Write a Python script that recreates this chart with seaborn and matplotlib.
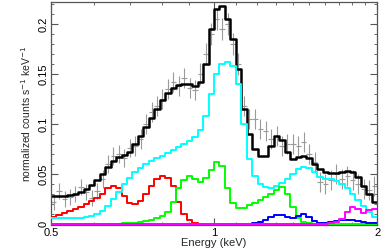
import numpy as np
import pandas as pd
import matplotlib
matplotlib.use("Agg")
import matplotlib.pyplot as plt
import seaborn as sns
from matplotlib.ticker import FixedLocator, NullFormatter, MultipleLocator

# ---- data (60 log-spaced energy bins from 0.5 to 2 keV) ----
e_lo, e_hi, n_bins = 0.5, 2.0, 60

total = [0.028, 0.028, 0.028, 0.029, 0.030, 0.032, 0.035, 0.039, 0.044, 0.050,
         0.057, 0.063, 0.067, 0.069, 0.072, 0.080, 0.088, 0.097, 0.106, 0.115,
         0.124, 0.131, 0.136, 0.139, 0.140, 0.140, 0.138, 0.142, 0.160, 0.195,
         0.215, 0.218, 0.205, 0.185, 0.155, 0.115, 0.090, 0.075, 0.068, 0.068,
         0.078, 0.088, 0.084, 0.072, 0.065, 0.067, 0.068, 0.066, 0.060, 0.055,
         0.052, 0.051, 0.051, 0.052, 0.053, 0.052, 0.047, 0.038, 0.030, 0.022]

comp_red = [0.007, 0.009, 0.011, 0.013, 0.015, 0.017, 0.020, 0.023, 0.026, 0.030,
            0.036, 0.038, 0.036, 0.028, 0.021, 0.020, 0.023, 0.030, 0.038, 0.045,
            0.048, 0.046, 0.038, 0.022, 0.010, 0.004, 0.001, 0.0005, 0.0003, 0.0003,
            0.0003, 0.0003, 0.0003, 0.0003, 0.0003, 0.0003, 0.0003, 0.0003, 0.0003, 0.0003,
            0.0003, 0.0003, 0.0003, 0.0003, 0.0003, 0.0003, 0.0003, 0.0003, 0.0003, 0.0003,
            0.0003, 0.0003, 0.0003, 0.0003, 0.0003, 0.0003, 0.0003, 0.0003, 0.0003, 0.0003]

comp_cyan = [0.006, 0.006, 0.006, 0.006, 0.006, 0.006, 0.007, 0.008, 0.010, 0.013,
             0.018, 0.025, 0.032, 0.040, 0.046, 0.052, 0.056, 0.060, 0.063, 0.066,
             0.068, 0.071, 0.074, 0.077, 0.080, 0.083, 0.087, 0.094, 0.108, 0.130,
             0.150, 0.160, 0.162, 0.158, 0.140, 0.100, 0.065, 0.048, 0.040, 0.037,
             0.036, 0.038, 0.041, 0.045, 0.050, 0.055, 0.057, 0.056, 0.052, 0.047,
             0.045, 0.045, 0.043, 0.040, 0.036, 0.030, 0.024, 0.018, 0.012, 0.007]

comp_green = [0.0003, 0.0003, 0.0003, 0.0003, 0.0003, 0.0003, 0.0003, 0.0003, 0.0003, 0.0003,
              0.0003, 0.0003, 0.0005, 0.0008, 0.001, 0.0015, 0.002, 0.003, 0.004, 0.006,
              0.008, 0.012, 0.022, 0.036, 0.044, 0.048, 0.045, 0.042, 0.046, 0.054,
              0.062, 0.058, 0.036, 0.021, 0.016, 0.016, 0.019, 0.021, 0.024, 0.027,
              0.030, 0.034, 0.037, 0.030, 0.017, 0.006, 0.002, 0.001, 0.0005, 0.0005,
              0.0005, 0.0005, 0.0005, 0.0005, 0.0005, 0.0005, 0.0005, 0.0005, 0.0005, 0.0005]

comp_blue = [0.0003] * 37 + [0.0008, 0.002, 0.004, 0.007, 0.009, 0.009, 0.007, 0.006, 0.008,
                             0.010, 0.007, 0.003, 0.001, 0.001, 0.002, 0.003, 0.004, 0.004,
                             0.004, 0.003, 0.002, 0.001, 0.001]

comp_magenta = [0.0005] * 51 + [0.001, 0.002, 0.005, 0.012, 0.017, 0.015, 0.011, 0.014, 0.015]

data_rate = [0.022, 0.033, 0.025, 0.027, 0.030, 0.037, 0.032, 0.026, 0.033, 0.045,
             0.060, 0.068, 0.070, 0.066, 0.076, 0.078, 0.085, 0.100, 0.112, 0.118,
             0.125, 0.135, 0.142, 0.138, 0.146, 0.136, 0.134, 0.150, 0.170, 0.190,
             0.205, 0.195, 0.200, 0.180, 0.160, 0.118, 0.105, 0.105, 0.095, 0.093,
             0.085, 0.088, 0.078, 0.080, 0.080, 0.078, 0.082, 0.070, 0.062, 0.042,
             0.040, 0.044, 0.050, 0.045, 0.048, 0.044, 0.040, 0.035, 0.034, 0.038]

data_err = [0.008, 0.008, 0.008, 0.008, 0.008, 0.008, 0.008, 0.008, 0.008, 0.009,
            0.009, 0.009, 0.009, 0.009, 0.009, 0.010, 0.010, 0.010, 0.010, 0.010,
            0.010, 0.010, 0.010, 0.010, 0.010, 0.010, 0.010, 0.011, 0.011, 0.011,
            0.011, 0.011, 0.011, 0.011, 0.011, 0.010, 0.010, 0.010, 0.010, 0.010,
            0.010, 0.010, 0.010, 0.010, 0.010, 0.010, 0.010, 0.010, 0.010, 0.010,
            0.010, 0.010, 0.010, 0.010, 0.010, 0.010, 0.010, 0.010, 0.010, 0.010]

x_ticks = [0.5, 1, 2]
x_tick_labels = ["0.5", "1", "2"]
y_ticks = [0, 0.05, 0.1, 0.15, 0.2]
y_tick_labels = ["0", "0.05", "0.1", "0.15", "0.2"]

# ---- figure ----
sns.set_theme(style="ticks")
plt.rcParams["font.family"] = ["Liberation Sans", "DejaVu Sans"]

fig = plt.figure(figsize=(3.86, 2.49), dpi=100)
ax = fig.add_axes([0.132, 0.096, 0.845, 0.896])

edges = np.geomspace(e_lo, e_hi, n_bins + 1)
centers = np.sqrt(edges[:-1] * edges[1:])
step_x = np.repeat(edges, 2)[1:-1]


def step_frame(vals, name):
    return pd.DataFrame({"energy": step_x, "rate": np.repeat(np.asarray(vals, float), 2),
                         "comp": name})


# data crosses
ax.errorbar(centers, data_rate,
            xerr=[centers - edges[:-1], edges[1:] - centers],
            yerr=data_err, fmt="none", ecolor="#9a9a9a", elinewidth=0.8,
            capsize=0, zorder=1)

series = [(total, "black", 1.8), (comp_red, "#ff0000", 1.4),
          (comp_cyan, "#00ffff", 1.4), (comp_green, "#00ff00", 1.4),
          (comp_blue, "#0000ff", 1.4), (comp_magenta, "#ff00ff", 1.4)]
for i, (vals, col, lw) in enumerate(series):
    df = step_frame(vals, str(i))
    sns.lineplot(data=df, x="energy", y="rate", color=col, lw=lw, ax=ax,
                 sort=False, estimator=None, zorder=2 + i, legend=False)

ax.set_xscale("log")
ax.set_xlim(e_lo, e_hi)
ax.set_ylim(-0.0008, 0.222)

ax.xaxis.set_major_locator(FixedLocator(x_ticks))
ax.set_xticklabels(x_tick_labels)
ax.xaxis.set_minor_locator(FixedLocator([0.6, 0.7, 0.8, 0.9, 1.1, 1.2, 1.3, 1.4, 1.5,
                                         1.6, 1.7, 1.8, 1.9]))
ax.xaxis.set_minor_formatter(NullFormatter())
ax.yaxis.set_major_locator(FixedLocator(y_ticks))
ax.set_yticklabels(y_tick_labels, rotation=90, va="center")
ax.yaxis.set_minor_locator(MultipleLocator(0.01))

ax.tick_params(which="both", direction="in", top=True, right=True,
               colors="#555555", labelcolor="black", labelsize=8, pad=2)
ax.tick_params(which="major", length=5, width=0.8)
ax.tick_params(which="minor", length=2.5, width=0.6)
for s in ax.spines.values():
    s.set_color("#555555")
    s.set_linewidth(0.9)

ax.set_xlabel("Energy (keV)", fontsize=8, labelpad=0)
ax.set_ylabel("normalized counts s$^{-1}$ keV$^{-1}$", fontsize=7.5, labelpad=4)

fig.savefig("out.png", dpi=100)
